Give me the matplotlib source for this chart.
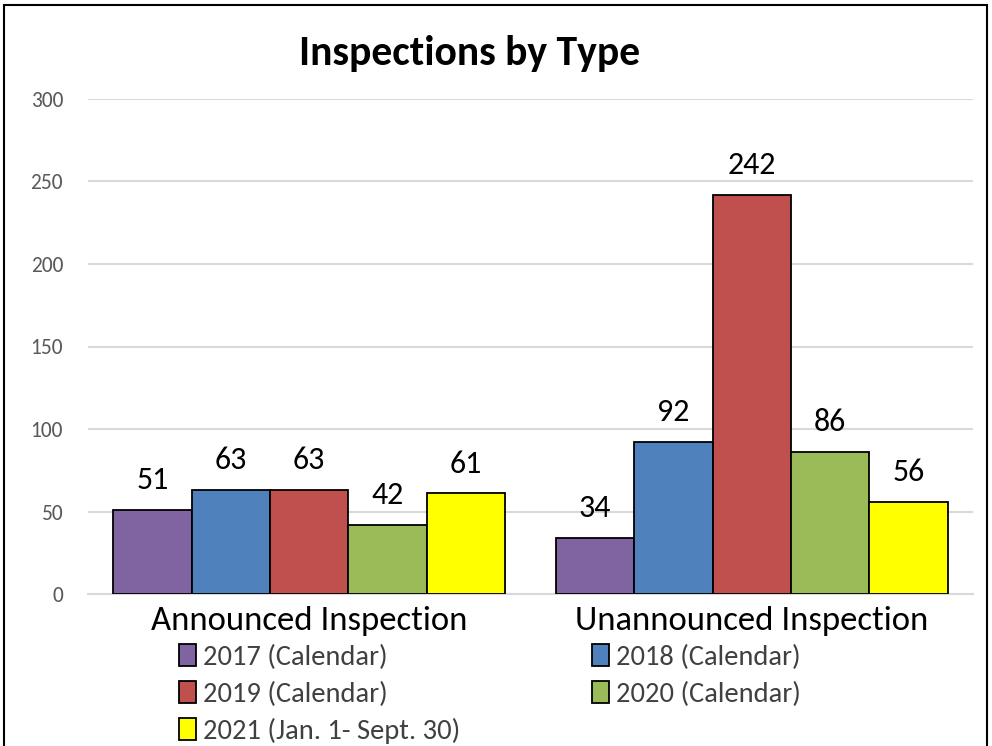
import matplotlib
matplotlib.use("Agg")
import matplotlib.pyplot as plt
import numpy as np
from matplotlib import font_manager
from matplotlib.patches import Patch, Rectangle

# data
categories = ["Announced Inspection", "Unannounced Inspection"]
series = ["2017 (Calendar)", "2018 (Calendar)", "2019 (Calendar)",
          "2020 (Calendar)", "2021 (Jan. 1- Sept. 30)"]
v2017 = [51, 34]
v2018 = [63, 92]
v2019 = [63, 242]
v2020 = [42, 86]
v2021 = [61, 56]
values = [v2017, v2018, v2019, v2020, v2021]
colors = ["#8064A2", "#4F81BD", "#C0504D", "#9BBB59", "#FFFF00"]

avail = {f.name for f in font_manager.fontManager.ttflist}
for fam in ["Carlito", "Lato", "DejaVu Sans"]:
    if fam in avail:
        plt.rcParams["font.family"] = fam
        break

W, H = 992, 746
fig = plt.figure(figsize=(W / 100, H / 100), dpi=100)
ax = fig.add_axes([88 / W, 1 - 594 / H, (973 - 88) / W, (594 - 99) / H])

x = np.arange(len(categories))
bw = 0.177
for i, (name, vals, c) in enumerate(zip(series, values, colors)):
    pos = x + (i - 2) * bw
    ax.bar(pos, vals, bw, color=c, edgecolor="black", linewidth=1.3, label=name, zorder=3)
    for p, v in zip(pos, vals):
        ax.text(p, v + 18, str(v), ha="center", va="center", fontsize=23, color="black", zorder=4)

ax.set_xlim(-0.5, 1.5)
ax.set_ylim(0, 300)
ax.set_yticks(np.arange(0, 301, 50))
ax.yaxis.grid(True, color="#D9D9D9", linewidth=1.5, zorder=0)
ax.set_axisbelow(True)
for s in ["top", "right", "left"]:
    ax.spines[s].set_visible(False)
ax.spines["bottom"].set_color("#D9D9D9")
ax.spines["bottom"].set_linewidth(1.5)
ax.tick_params(axis="y", length=0, labelsize=15.5, labelcolor="#595959", pad=18)
ax.tick_params(axis="x", length=0, labelsize=25, labelcolor="black", pad=9)
ax.set_xticks(x)
ax.set_xticklabels(categories)

fig.text(470 / W, 1 - 53 / H, "Inspections by Type", ha="center", va="center",
         fontsize=30, fontweight="bold")

# legend fills column-wise, so reorder to read row-wise like the original
order = [0, 2, 4, 1, 3]
handles = [Patch(facecolor=colors[k], edgecolor="black", linewidth=1.3) for k in order]
labels = [series[k] for k in order]
fig.legend(handles, labels, loc="upper left", bbox_to_anchor=(165 / W, 1 - 630 / H),
           ncol=2, frameon=False, fontsize=20.5, labelcolor="#404040",
           handlelength=0.6, handleheight=0.8, handletextpad=0.25,
           columnspacing=4.6, labelspacing=0.38, borderpad=0)

fig.patches.append(Rectangle((4 / W, -0.05), (987 - 4) / W, 1.05 - 5 / H,
                             transform=fig.transFigure, fill=False,
                             edgecolor="black", linewidth=1.5))

fig.savefig("out.png", dpi=100)
